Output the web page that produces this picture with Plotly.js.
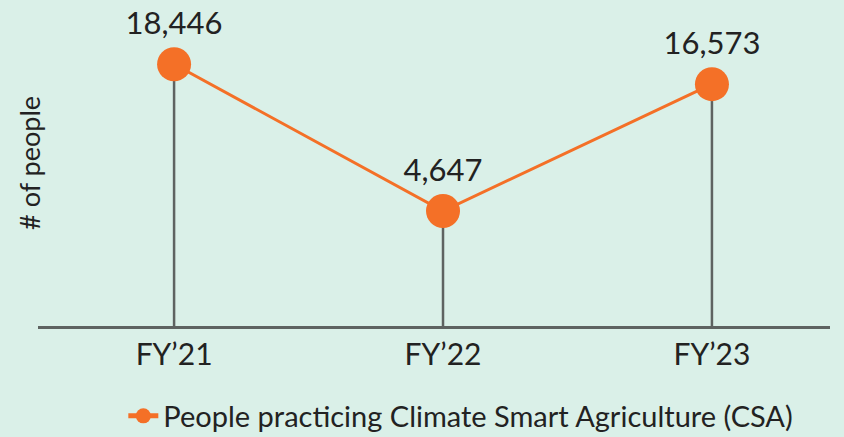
<!DOCTYPE html>
<html><head><meta charset="utf-8">
<script src="https://cdn.plot.ly/plotly-3.0.1.min.js"></script>
<style>html,body{margin:0;padding:0;background:#daf0e8;}#c{width:844px;height:437px;}</style>
</head><body><div id="c"></div>
<script>
const categories = ["FY\u201921", "FY\u201922", "FY\u201923"];
const values = [18446, 4647, 16573];
const labels = ["18,446", "4,647", "16,573"];
const seriesName = "People practicing Climate Smart Agriculture (CSA)";
const yTitle = "# of people";
const yBase = -6150;

const orange = "#f47027";
const gray = "#5e6361";

const dropX = [], dropY = [];
categories.forEach((c, i) => { dropX.push(c, c, null); dropY.push(yBase, values[i], null); });

const data = [
  {x: dropX, y: dropY, mode: "lines", line: {color: gray, width: 2.5}, showlegend: false, hoverinfo: "skip", cliponaxis: false},
  {x: categories, y: values, mode: "lines+markers+text", text: labels, textposition: "top center",
   textfont: {family: "Lato, sans-serif", size: 31, color: "#222"},
   line: {color: orange, width: 3}, marker: {color: orange, size: 34}, showlegend: false, cliponaxis: false},
  {x: [null], y: [null], mode: "lines+markers", name: seriesName,
   line: {color: orange, width: 5}, marker: {color: orange, size: 15}}
];

const layout = {
  width: 844, height: 437,
  paper_bgcolor: "#daf0e8", plot_bgcolor: "#daf0e8",
  margin: {l: 38, r: 14, t: 20, b: 111, autoexpand: false},
  font: {family: "Lato, sans-serif", color: "#222"},
  xaxis: {type: "category", range: [-0.506, 2.439], showgrid: false, zeroline: false, automargin: false,
    showline: true, linecolor: gray, linewidth: 2.5, ticks: "",
    tickfont: {family: "Lato, sans-serif", size: 30, color: "#222"}},
  yaxis: {range: [yBase, 22600], showgrid: false, zeroline: false, showticklabels: false, showline: false, automargin: false},
  annotations: [{text: yTitle, xref: "paper", yref: "paper", x: -0.0101, y: 0.533, xanchor: "center", yanchor: "middle",
    textangle: -90, showarrow: false, font: {family: "Lato, sans-serif", size: 27, color: "#222"}}],
  showlegend: true,
  legend: {orientation: "h", xref: "container", x: 0.546, xanchor: "center", yref: "container", y: 0.048, yanchor: "middle",
    font: {family: "Lato, sans-serif", size: 29, color: "#222"}, bgcolor: "rgba(0,0,0,0)"}
};

Plotly.newPlot("c", data, layout, {displayModeBar: false, staticPlot: true});
</script></body></html>
